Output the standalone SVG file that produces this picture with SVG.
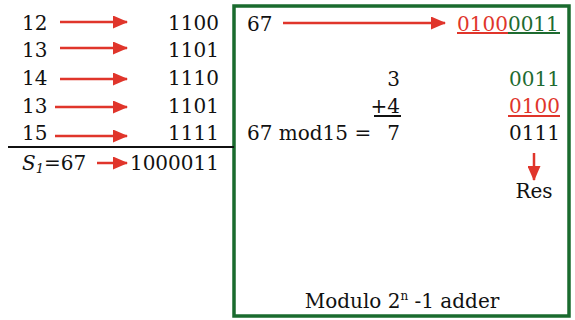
<svg xmlns="http://www.w3.org/2000/svg" width="575" height="320" viewBox="0 0 575 320">
<style>
text{font-family:"DejaVu Serif","Liberation Serif",serif;font-size:20px;fill:#111}
.r{text-anchor:end}
.red{fill:#e0352b}
.grn{fill:#1e6b30}
.arr{stroke:#e0352b;stroke-width:2.5;fill:none;marker-end:url(#ah)}
</style>
<defs>
<marker id="ah" markerUnits="userSpaceOnUse" markerWidth="15" markerHeight="13" refX="14" refY="6.5" orient="auto">
<path d="M0,0 L15,6.5 L0,13 z" fill="#e0352b"/>
</marker>
</defs>
<rect width="575" height="320" fill="#fff"/>
<g id="box"><rect x="234" y="6" width="335" height="310" fill="none" stroke="#1a6b2e" stroke-width="3.5"/></g>
<g id="left">
<text x="22" y="30">12</text><text class="r" x="219" y="30">1100</text>
<text x="22" y="57">13</text><text class="r" x="219" y="57">1101</text>
<text x="22" y="85">14</text><text class="r" x="219" y="85">1110</text>
<text x="22" y="113">13</text><text class="r" x="219" y="113">1101</text>
<text x="22" y="140">15</text><text class="r" x="219" y="140">1111</text>
<line x1="8" y1="147" x2="234" y2="147" stroke="#111" stroke-width="2"/>
<text x="22" y="170"><tspan font-style="italic">S</tspan><tspan font-style="italic" font-size="13" dy="3">1</tspan><tspan dy="-3">=67</tspan></text>
<text class="r" x="219" y="170">1000011</text>
</g>
<g id="right">
<text x="247" y="31">67</text>
<text x="457" y="31"><tspan class="red">0100</tspan><tspan class="grn">0011</tspan></text>
<line x1="457" y1="33" x2="508" y2="33" stroke="#e0352b" stroke-width="2"/>
<line x1="508" y1="33" x2="560" y2="33" stroke="#1e6b30" stroke-width="2"/>
<text class="r" x="400" y="86">3</text>
<text class="r grn" x="560" y="86">0011</text>
<text class="r" x="400" y="113">+4</text>
<line x1="374" y1="116" x2="401" y2="116" stroke="#111" stroke-width="2"/>
<text class="r red" x="560" y="113">0100</text>
<line x1="508" y1="116" x2="560" y2="116" stroke="#e0352b" stroke-width="2"/>
<text x="247" y="140">67 mod15 =</text>
<text class="r" x="400" y="140">7</text>
<text class="r" x="560" y="140">0111</text>
<text x="534" y="198" text-anchor="middle">Res</text>
<text x="402" y="308" text-anchor="middle">Modulo 2<tspan font-size="12" dy="-8">n</tspan><tspan dy="8"> -1 adder</tspan></text>
</g>
<g id="connectors">
<line class="arr" x1="60" y1="22" x2="127" y2="22"/>
<line class="arr" x1="60" y1="48" x2="127" y2="48"/>
<line class="arr" x1="60" y1="79" x2="127" y2="79"/>
<line class="arr" x1="55" y1="107" x2="127" y2="107"/>
<line class="arr" x1="55" y1="136" x2="127" y2="136"/>
<line class="arr" x1="97" y1="163" x2="127" y2="163"/>
<line class="arr" x1="283" y1="23" x2="445" y2="23"/>
<line class="arr" x1="534" y1="153" x2="534" y2="180"/>
</g>
</svg>
